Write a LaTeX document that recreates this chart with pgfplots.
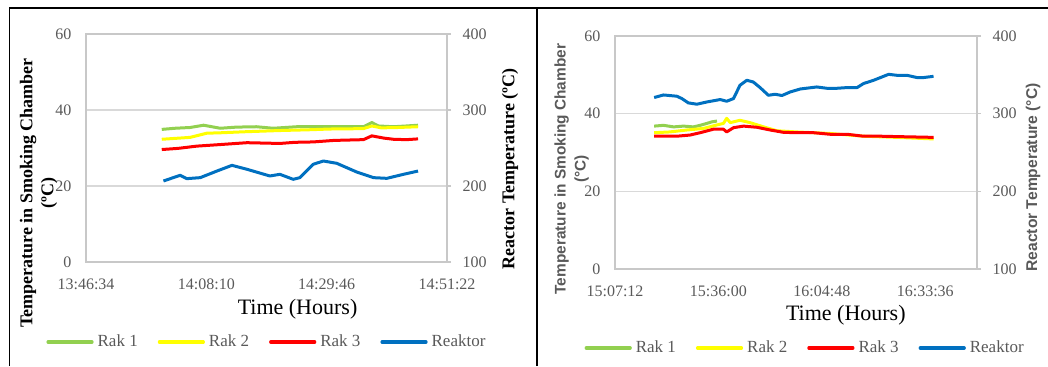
\documentclass[border=0pt]{standalone}
\usepackage{pgfplots}
\pgfplotsset{compat=1.18}
\usepackage{fontspec}
\setmainfont{Liberation Serif}
\newfontfamily\arialfont{Liberation Sans}
\definecolor{rakone}{HTML}{92D050}
\definecolor{raktwo}{HTML}{FFFF00}
\definecolor{rakthree}{HTML}{FF0000}
\definecolor{reaktor}{HTML}{0070C0}
\definecolor{gridgray}{HTML}{D9D9D9}
\definecolor{axisgray}{HTML}{C8C8C8}
\definecolor{txtgray}{HTML}{595959}

\pgfplotsset{
  base/.style={scale only axis, clip=false,
    /pgf/number format/assume math mode=true,
    axis line style={draw=axisgray, line width=0.6pt},
    tick label style={font=\fontsize{8}{9.6}\selectfont, text=txtgray},
    every tick/.style={draw=axisgray, line width=0.6pt},
  },
  mainax/.style={base,
    ymin=0, ymax=60, ytick={0,20,40,60},
    ymajorgrids, major grid style={draw=gridgray, line width=0.6pt},
    major tick length=0pt, ytick pos=left, xtick pos=bottom,
    xticklabel style={yshift=-5pt},
    yticklabel style={xshift=-3.8pt},
  },
  secax/.style={base,
    ymin=100, ymax=400, ytick={100,200,300,400},
    axis x line=none, axis y line*=right,
    tick align=outside, major tick length=2pt,
    yticklabel style={xshift=2.3pt},
    legend columns=4,
    legend image code/.code={\draw[#1, line width=1.6pt, line cap=round] (0pt,0pt) -- (22pt,0pt);},
  },
  rk1/.style={draw=rakone, line width=1.5pt, line join=round, no markers},
  rk2/.style={draw=raktwo, line width=1.5pt, line join=round, no markers},
  rk3/.style={draw=rakthree, line width=1.5pt, line join=round, no markers},
  rkt/.style={draw=reaktor, line width=1.5pt, line join=round, no markers},
}

\begin{document}
\begin{tikzpicture}
\useasboundingbox (0,0) rectangle (524pt,183pt);
% frame lines
\draw[black, line width=0.6pt] (4.75pt,0pt) -- (4.75pt,179pt) -- (524pt,179pt);
\draw[black, line width=1.2pt] (268.5pt,0pt) -- (268.5pt,179pt);

% ===== Left panel =====
\begin{axis}[mainax, at={(43pt,52pt)}, anchor=south west, width=180.5pt, height=114pt,
  xmin=0, xmax=64.8,
  xtick={0,21.6,43.2,64.8}, xticklabels={13:46:34,14:08:10,14:29:46,14:51:22},
  xlabel={Time (Hours)},
  every axis x label/.style={at={(rel axis cs:0.586,-0.206)}, anchor=center, font=\fontsize{11}{13}\selectfont},
  ylabel={Temperature in Smoking Chamber\\(ºC)},
  every axis y label/.style={at={(rel axis cs:-0.1316,0.303)}, anchor=center, rotate=90, align=center, font=\bfseries\fontsize{9}{10.5}\selectfont},
]
\addplot[rk1] coordinates {(13.6,34.9) (16.0,35.2) (18.7,35.4) (21.1,36.0) (24.1,35.2) (27.0,35.5) (30.6,35.6) (33.6,35.2) (37.8,35.6) (43.2,35.6) (49.8,35.6) (51.3,36.7) (52.5,35.8) (55.2,35.6) (57.5,35.8) (59.6,36.0)};
\addplot[rk2] coordinates {(13.6,32.3) (18.7,32.8) (21.7,33.9) (24.0,34.0) (28.9,34.3) (34.8,34.6) (40.0,34.8) (43.8,35.0) (49.8,35.1) (51.3,35.8) (53.0,35.3) (56.0,35.4) (59.6,35.6)};
\addplot[rk3] coordinates {(13.6,29.6) (16.5,29.9) (19.9,30.5) (24.0,30.9) (28.9,31.4) (34.8,31.2) (37.5,31.5) (40.8,31.6) (44.5,32.0) (49.8,32.2) (51.3,33.2) (53.5,32.6) (55.2,32.3) (57.5,32.2) (59.6,32.4)};
\end{axis}
\begin{axis}[secax, at={(43pt,52pt)}, anchor=south west, width=180.5pt, height=114pt,
  xmin=0, xmax=64.8,
  ylabel={Reactor Temperature (ºC)},
  every axis y label/.style={at={(rel axis cs:1.1745,0.408)}, anchor=center, rotate=90, font=\bfseries\fontsize{9}{10.5}\selectfont},
  legend style={at={(rel axis cs:0.504,-0.351)}, anchor=center, draw=none, fill=none, inner sep=0pt,
    font=\fontsize{8.5}{10}\selectfont, text=txtgray,
    /tikz/every even column/.append style={column sep=8pt}},
]
\addlegendimage{rk1}\addlegendentry{Rak 1}
\addlegendimage{rk2}\addlegendentry{Rak 2}
\addlegendimage{rk3}\addlegendentry{Rak 3}
\addplot[rkt] coordinates {(13.9,206.6) (16.9,214.1) (18.1,209.7) (20.5,211.0) (23.5,219.7) (26.2,227.2) (28.9,222.0) (33.0,213.2) (34.8,215.4) (37.2,208.8) (38.4,211.0) (40.8,228.6) (42.6,232.9) (45.0,229.9) (48.6,218.4) (51.6,211.0) (54.0,210.1) (57.0,215.4) (59.6,219.7)};
\addlegendentry{Reaktor}
\end{axis}

% ===== Right panel =====
\begin{axis}[mainax, at={(307.5pt,48.5pt)}, anchor=south west, width=181pt, height=116.5pt,
  xmin=0, xmax=100.8,
  xtick={0,28.8,57.6,86.4}, xticklabels={15:07:12,15:36:00,16:04:48,16:33:36},
  xlabel={Time (Hours)},
  every axis x label/.style={at={(rel axis cs:0.6376,-0.197)}, anchor=center, font=\fontsize{11}{13}\selectfont},
  ylabel={Temperature in Smoking Chamber\\(°C)},
  every axis y label/.style={at={(rel axis cs:-0.1196,0.429)}, anchor=center, rotate=90, align=center, text=txtgray, font=\arialfont\bfseries\fontsize{7.7}{10}\selectfont},
]
\addplot[rk1] coordinates {(10.9,36.8) (13.5,37.0) (16.3,36.6) (19.1,36.8) (21.8,36.6) (23.7,37.0) (25.6,37.5) (27.0,37.9) (28.4,38.1)};
\addplot[rk2] coordinates {(10.9,35.1) (15.3,35.3) (20.0,35.8) (24.6,36.2) (28.4,37.1) (30.2,37.5) (31.1,38.8) (32.1,37.7) (34.8,38.3) (37.6,37.7) (41.4,36.6) (45.1,35.6) (50.6,35.3) (59.9,34.9) (69.2,34.2) (78.5,33.9) (88.7,33.5)};
\addplot[rk3] coordinates {(10.9,34.2) (17.2,34.2) (20.9,34.5) (23.7,35.1) (27.4,36.0) (30.2,36.0) (31.1,35.3) (33.0,36.4) (35.8,36.8) (39.5,36.5) (43.2,35.8) (46.9,35.2) (50.6,35.1) (55.3,35.1) (59.9,34.7) (64.6,34.7) (69.2,34.2) (73.9,34.2) (78.5,34.1) (88.7,33.9)};
\end{axis}
\begin{axis}[secax, at={(307.5pt,48.5pt)}, anchor=south west, width=181pt, height=116.5pt,
  xmin=0, xmax=100.8,
  ylabel={Reactor Temperature (°C)},
  every axis y label/.style={at={(rel axis cs:1.155,0.393)}, anchor=center, rotate=90, text=txtgray, font=\arialfont\bfseries\fontsize{7.8}{10}\selectfont},
  legend style={at={(rel axis cs:0.528,-0.339)}, anchor=center, draw=none, fill=none, inner sep=0pt,
    font=\fontsize{8.5}{10}\selectfont, text=txtgray,
    /tikz/every even column/.append style={column sep=8pt}},
]
\addlegendimage{rk1}\addlegendentry{Rak 1}
\addlegendimage{rk2}\addlegendentry{Rak 2}
\addlegendimage{rk3}\addlegendentry{Rak 3}
\addplot[rkt] coordinates {(10.9,320.8) (13.5,324.1) (17.2,322.5) (18.6,319.5) (20.4,313.9) (22.8,312.2) (25.6,315.1) (29.3,318.2) (31.1,316.0) (33.0,319.5) (34.8,336.6) (36.7,343.0) (38.5,340.8) (40.4,333.6) (42.7,323.7) (44.6,325.0) (46.5,323.4) (48.8,328.0) (51.6,331.8) (56.2,334.4) (59.0,332.7) (61.8,332.7) (64.6,333.6) (67.4,333.6) (69.2,338.8) (72.0,343.0) (76.2,350.7) (78.5,349.4) (81.3,349.4) (84.1,346.5) (85.9,346.5) (88.7,348.1)};
\addlegendentry{Reaktor}
\end{axis}
\end{tikzpicture}
\end{document}
